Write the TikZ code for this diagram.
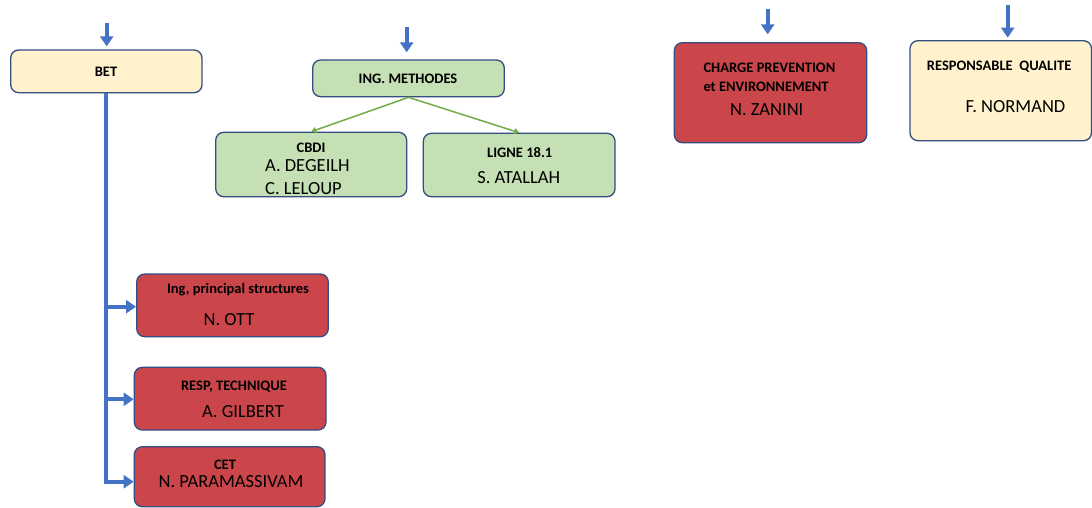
\documentclass[tikz,border=0pt]{standalone}
\usepackage{fontspec}
\setmainfont{Carlito}
\usetikzlibrary{arrows.meta}
\definecolor{bordc}{RGB}{52,78,130}
\definecolor{yelfill}{RGB}{255,242,204}
\definecolor{grnfill}{RGB}{197,224,180}
\definecolor{redfill}{RGB}{202,70,75}
\definecolor{bluearr}{RGB}{68,114,196}
\definecolor{grnarr}{RGB}{112,173,71}
\tikzset{
  box/.style={draw=bordc, line width=1.3pt, rounded corners=8pt, inner sep=0pt},
  yelbox/.style={box, fill=yelfill},
  grnbox/.style={box, fill=grnfill},
  redbox/.style={box, fill=redfill},
  ttl/.style={inner sep=0pt, font=\bfseries\fontsize{14.5}{17}\selectfont, text height=9.3pt, text depth=0pt},
  nm/.style={inner sep=0pt, font=\fontsize{18.5}{22}\selectfont, text height=11.9pt, text depth=0pt},
  bluearrow/.style={draw=bluearr, line width=4pt, -{Triangle[width=13pt,length=10pt]}},
  greenarrow/.style={draw=grnarr, line width=1.5pt, -{Triangle[width=6pt,length=5pt]}}
}
\begin{document}
\begin{tikzpicture}[x=1pt,y=-1pt]
\useasboundingbox (0,0) rectangle (1092,508);
% boxes
\node[yelbox, minimum width=191.3pt, minimum height=42.7pt] (bet) at (106.35,71.35) {};
\node[grnbox, minimum width=191.6pt, minimum height=36.7pt] (meth) at (408.5,78.35) {};
\node[grnbox, minimum width=191pt, minimum height=64.4pt] (cbdi) at (311.2,164.5) {};
\node[grnbox, minimum width=191.7pt, minimum height=63.4pt] (ligne) at (519.15,165) {};
\node[redbox, minimum width=192.4pt, minimum height=100pt] (charge) at (770.5,92.7) {};
\node[yelbox, minimum width=181.5pt, minimum height=100pt] (qual) at (1000.75,90.7) {};
\node[redbox, minimum width=191.6pt, minimum height=62.7pt] (ing) at (232.5,305.35) {};
\node[redbox, minimum width=191.7pt, minimum height=62.7pt] (tech) at (230.15,398.65) {};
\node[redbox, minimum width=190.7pt, minimum height=60pt] (cet) at (229.65,476.7) {};
% texts
\node[ttl] (tbet) at (106,72) {BET};
\node[ttl] (tmeth) at (408,79) {ING. METHODES};
\node[ttl] (tcbdi) at (311,148) {CBDI};
\node[nm, anchor=west] (tdeg) at (265,166) {A. DEGEILH};
\node[nm, anchor=west] (tlel) at (265,188.5) {C. LELOUP};
\node[ttl] (tligne) at (519.7,152.7) {LIGNE 18.1};
\node[nm] (tata) at (518.7,177.7) {S. ATALLAH};
\node[ttl, anchor=west] (tch1) at (703.3,68.3) {CHARGE PREVENTION};
\node[ttl, anchor=west] (tch2) at (703.3,87.3) {et ENVIRONNEMENT};
\node[nm] (tzan) at (766.7,109.3) {N. ZANINI};
\node[ttl, anchor=west] (tqual) at (926.7,66) {RESPONSABLE\ \ QUALITE};
\node[nm] (tnorm) at (1015.5,106.7) {F. NORMAND};
\node[ttl] (ting) at (238,289.3) {Ing, principal structures};
\node[nm] (tott) at (229,320) {N. OTT};
\node[ttl] (ttech) at (234,386) {RESP, TECHNIQUE};
\node[nm] (tgil) at (243,411.7) {A. GILBERT};
\node[ttl] (tcet) at (225,465) {CET};
\node[nm] (tpar) at (231,481.7) {N. PARAMASSIVAM};
% top arrows
\coordinate (a1) at (106.7,22.7);
\coordinate (a2) at (406.7,27.3);
\coordinate (a3) at (767.7,9.3);
\coordinate (a4) at (1007.7,5);
\draw[bluearrow, shorten >=3pt] (a1) -- (a1 |- bet.north);
\draw[bluearrow, shorten >=7pt] (a2) -- (a2 |- meth.north);
\draw[bluearrow, shorten >=7.7pt] (a3) -- (a3 |- charge.north);
\draw[bluearrow, shorten >=2.4pt] (a4) -- (a4 |- qual.north);
% BET tree
\coordinate (b1) at (107,306.7);
\coordinate (b2) at (107,399.3);
\coordinate (b3) at (107,481.7);
\draw[bluearrow] (bet.south) |- (b3 -| cet.west);
\draw[bluearrow] (b1) -- (b1 -| ing.west);
\draw[bluearrow] (b2) -- (b2 -| tech.west);
% methodes tree
\draw[greenarrow] (meth.south) -- (cbdi.north);
\draw[greenarrow] (meth.south) -- (ligne.north);
\end{tikzpicture}
\end{document}
